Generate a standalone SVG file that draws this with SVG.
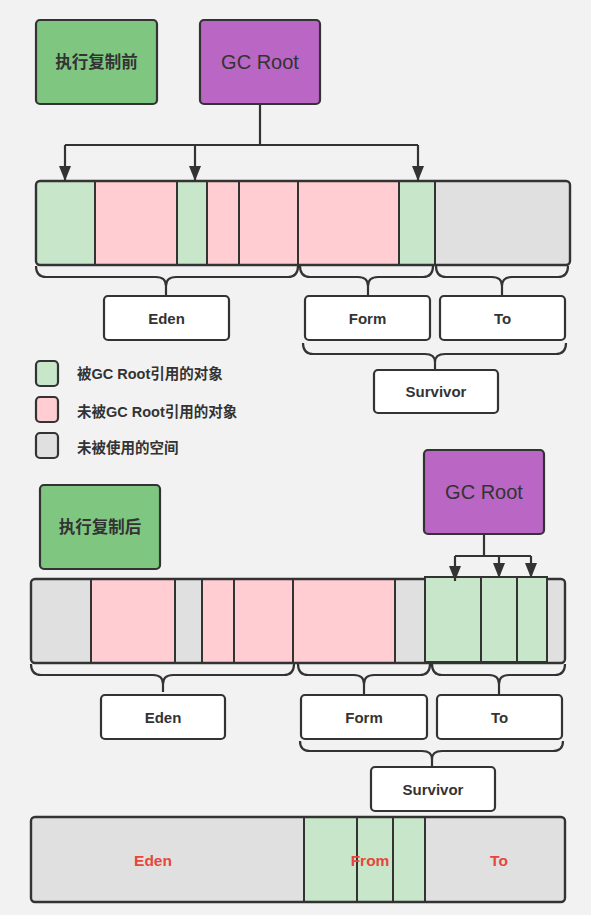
<svg xmlns="http://www.w3.org/2000/svg" width="591" height="915" viewBox="0 0 591 915">
<defs>
<marker id="arrd" markerUnits="userSpaceOnUse" markerWidth="16" markerHeight="12" refX="15" refY="6" orient="auto" viewBox="0 0 16 12">
<path d="M0,0 L15,6 L0,12 Z" fill="#333"/>
</marker>
</defs>
<style>
.bg{fill:#f2f2f2}
.box{stroke:#333;stroke-width:2.2}
.label{fill:#fff;stroke:#333;stroke-width:2.2}
.g{fill:#c8e6c9}
.p{fill:#ffcdd2}
.u{fill:#e0e0e0}
.seg{stroke:#333;stroke-width:2}
.brace{fill:none;stroke:#333;stroke-width:2.2;stroke-linejoin:round}
.conn{fill:none;stroke:#333;stroke-width:2.2}
.t{font-family:"Liberation Sans","Noto Sans CJK SC",sans-serif;fill:#333;text-anchor:middle;dominant-baseline:central}
.b{font-weight:bold;font-size:15px}
.cn{font-weight:bold;font-size:16.5px}
.gc{font-size:20px}
.lg{font-family:"Liberation Sans","Noto Sans CJK SC",sans-serif;fill:#333;font-weight:bold;font-size:14.5px;dominant-baseline:central}
.red{fill:#e8453c;font-weight:bold;font-size:15.5px}
</style>
<rect class="bg" x="0" y="0" width="591" height="915"/>

<!-- Top section -->
<g id="before-label">
<rect class="box" x="36" y="20" width="121" height="84" rx="4" fill="#7fc781"/>
<text class="t cn" x="96.5" y="62">执行复制前</text>
</g>
<g id="gcroot-top">
<rect class="box" x="200" y="20" width="120" height="84" rx="4" fill="#b966c4"/>
<text class="t gc" x="260" y="62">GC Root</text>
</g>

<g id="heap-before">
<rect x="36" y="181" width="534" height="84" rx="4" class="u"/>
<rect class="g" x="36" y="181" width="59" height="84"/>
<rect class="p" x="95" y="181" width="82" height="84"/>
<rect class="g" x="177" y="181" width="30" height="84"/>
<rect class="p" x="207" y="181" width="32" height="84"/>
<rect class="p" x="239" y="181" width="59" height="84"/>
<rect class="p" x="298" y="181" width="101" height="84"/>
<rect class="g" x="399" y="181" width="36" height="84"/>
<g class="seg">
<line x1="95" y1="181" x2="95" y2="265"/>
<line x1="177" y1="181" x2="177" y2="265"/>
<line x1="207" y1="181" x2="207" y2="265"/>
<line x1="239" y1="181" x2="239" y2="265"/>
<line x1="298" y1="181" x2="298" y2="265"/>
<line x1="399" y1="181" x2="399" y2="265"/>
<line x1="435" y1="181" x2="435" y2="265"/>
</g>
<rect x="36" y="181" width="534" height="84" rx="4" fill="none" stroke="#333" stroke-width="2.4"/>
</g>

<g id="eden-top">
<rect class="label" x="104" y="296" width="125" height="44" rx="4"/>
<text class="t b" x="166.5" y="318">Eden</text>
</g>
<g id="form-top">
<rect class="label" x="305" y="296" width="125" height="44" rx="4"/>
<text class="t b" x="367.5" y="318">Form</text>
</g>
<g id="to-top">
<rect class="label" x="440" y="296" width="125" height="44" rx="4"/>
<text class="t b" x="502.5" y="318">To</text>
</g>
<g id="survivor-top">
<rect class="label" x="374" y="370" width="124" height="43" rx="4"/>
<text class="t b" x="436" y="391.5">Survivor</text>
</g>

<g id="legend">
<rect class="box g" x="36" y="361" width="22" height="25" rx="4"/>
<text class="lg" x="77" y="373.5">被GC Root引用的对象</text>
<rect class="box p" x="36" y="397" width="22" height="25" rx="4"/>
<text class="lg" x="77" y="412">未被GC Root引用的对象</text>
<rect class="box u" x="36" y="433" width="22" height="25" rx="4"/>
<text class="lg" x="77" y="448">未被使用的空间</text>
</g>

<!-- Bottom section -->
<g id="after-label">
<rect class="box" x="40" y="485" width="120" height="84" rx="4" fill="#7fc781"/>
<text class="t cn" x="100" y="527">执行复制后</text>
</g>
<g id="gcroot-bottom">
<rect class="box" x="424" y="450" width="120" height="84" rx="4" fill="#b966c4"/>
<text class="t gc" x="484" y="492">GC Root</text>
</g>

<g id="heap-after">
<rect x="31" y="579" width="534" height="84" rx="4" class="u"/>
<rect class="p" x="91" y="579" width="84" height="84"/>
<rect class="p" x="202" y="579" width="32" height="84"/>
<rect class="p" x="234" y="579" width="59" height="84"/>
<rect class="p" x="293" y="579" width="102" height="84"/>
<g class="seg">
<line x1="91" y1="579" x2="91" y2="663"/>
<line x1="175" y1="579" x2="175" y2="663"/>
<line x1="202" y1="579" x2="202" y2="663"/>
<line x1="234" y1="579" x2="234" y2="663"/>
<line x1="293" y1="579" x2="293" y2="663"/>
<line x1="395" y1="579" x2="395" y2="663"/>
</g>
<rect x="31" y="579" width="534" height="84" rx="4" fill="none" stroke="#333" stroke-width="2.4"/>
<rect class="g seg" x="425" y="577" width="56" height="85" stroke-width="2.4"/>
<rect class="g seg" x="481" y="577" width="36" height="85" stroke-width="2.4"/>
<rect class="g seg" x="517" y="577" width="30" height="85" stroke-width="2.4"/>
</g>

<g id="eden-bottom">
<rect class="label" x="101" y="695" width="124" height="44" rx="4"/>
<text class="t b" x="163" y="717">Eden</text>
</g>
<g id="form-bottom">
<rect class="label" x="301" y="695" width="126" height="44" rx="4"/>
<text class="t b" x="364" y="717">Form</text>
</g>
<g id="to-bottom">
<rect class="label" x="437" y="695" width="125" height="44" rx="4"/>
<text class="t b" x="499.5" y="717">To</text>
</g>
<g id="survivor-bottom">
<rect class="label" x="371" y="767" width="124" height="44" rx="4"/>
<text class="t b" x="433" y="789">Survivor</text>
</g>

<g id="heap-summary">
<rect x="31" y="817" width="534" height="85" rx="4" class="u"/>
<rect class="g" x="304" y="817" width="121" height="85"/>
<g class="seg">
<line x1="304" y1="817" x2="304" y2="902"/>
<line x1="357" y1="817" x2="357" y2="902"/>
<line x1="393" y1="817" x2="393" y2="902"/>
<line x1="425" y1="817" x2="425" y2="902"/>
</g>
<rect x="31" y="817" width="534" height="85" rx="4" fill="none" stroke="#333" stroke-width="2.4"/>
<text class="t red" x="153" y="860">Eden</text>
<text class="t red" x="370" y="860">From</text>
<text class="t red" x="499" y="860">To</text>
</g>

<!-- Connectors and braces -->
<g id="connectors">
<path class="conn" d="M260,104 V145" stroke-width="3"/>
<path class="conn" d="M65,145 H418"/>
<path class="conn" d="M65,145 V181" marker-end="url(#arrd)"/>
<path class="conn" d="M195,145 V181" marker-end="url(#arrd)"/>
<path class="conn" d="M418,145 V181" marker-end="url(#arrd)"/>

<path class="conn" d="M484,534 V556" stroke-width="2.6"/>
<path class="conn" d="M455,556 H531"/>
<path class="conn" d="M455,556 V581" marker-end="url(#arrd)"/>
<path class="conn" d="M499,556 V578" marker-end="url(#arrd)"/>
<path class="conn" d="M531,556 V578" marker-end="url(#arrd)"/>

<!-- top braces -->
<path class="brace" d="M36,266 Q36,277 46,277 L156,277 Q166,277 166,286 L166,295 M166,286 Q166,277 176,277 L288,277 Q298,277 298,266"/>
<path class="brace" d="M300,266 Q300,277 310,277 L358,277 Q368,277 368,286 L368,295 M368,286 Q368,277 378,277 L423,277 Q433,277 433,266"/>
<path class="brace" d="M436,266 Q436,277 446,277 L492,277 Q502,277 502,286 L502,295 M502,286 Q502,277 512,277 L558,277 Q568,277 568,266"/>
<path class="brace" d="M303,343 Q303,354 313,354 L425,354 Q435,354 435,362 L435,369 M435,362 Q435,354 445,354 L556,354 Q566,354 566,343"/>

<!-- bottom braces -->
<path class="brace" d="M31,664 Q31,675 41,675 L153,675 Q163,675 163,684 L163,692 M163,684 Q163,675 173,675 L284,675 Q294,675 294,664"/>
<path class="brace" d="M298,664 Q298,675 308,675 L354,675 Q364,675 364,684 L364,694 M364,684 Q364,675 374,675 L420,675 Q430,675 430,664"/>
<path class="brace" d="M432,664 Q432,675 442,675 L489,675 Q499,675 499,684 L499,694 M499,684 Q499,675 509,675 L555,675 Q565,675 565,664"/>
<path class="brace" d="M300,741 Q300,751 310,751 L422,751 Q432,751 432,759 L432,767 M432,759 Q432,751 442,751 L553,751 Q563,751 563,741"/>
</g>
</svg>
